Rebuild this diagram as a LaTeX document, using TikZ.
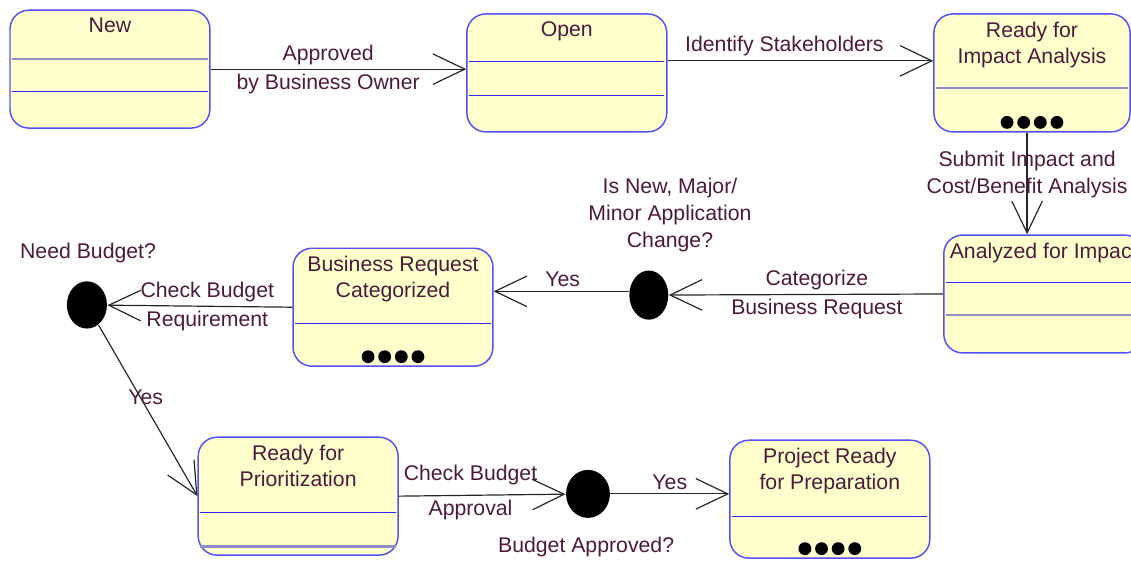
\documentclass[tikz,border=0pt]{standalone}
\usepackage{fontspec}
\setmainfont{Liberation Sans}
\usepackage{xcolor}
\usepackage{tikz}
\usetikzlibrary{shapes.geometric}
\usetikzlibrary{arrows.meta}
\definecolor{boxline}{RGB}{80,80,255}
\definecolor{boxfill}{RGB}{255,255,204}
\definecolor{sepgrey}{RGB}{140,140,200}
\definecolor{sepblue}{RGB}{40,40,255}
\definecolor{labelcol}{RGB}{80,25,60}
\tikzset{
    statebox/.style = {rectangle, rounded corners=0.5cm, draw=boxline, fill=boxfill, line width=1.1pt, minimum width=5.29cm, minimum height=3.12cm},
    titled/.style = {label={[anchor=north,align=center,inner sep=6pt]north:#1}},
    choice/.style = {ellipse, fill=black, inner sep=0pt, minimum width=1.06cm, minimum height=1.25cm},
}

\begin{document}
\begin{tikzpicture}[
	thick,
	font=\fontsize{16}{20}\selectfont,
	text=labelcol,
	inner sep=3pt
]
\tikzset{
    trans/.style = {-{Straight Barb[length=24pt,width=23pt]}, draw=black!85, line width=0.9pt}
}
\useasboundingbox (0,0) rectangle (29.93,14.90);
\clip (0,0) rectangle (29.93,14.90);
\node[statebox, titled={New}] at (2.91,13.07) (new) {};
\node[statebox, titled={Open}] at (15.00,12.97) (open) {};
\node[statebox, titled={Ready for\\Impact Analysis}, minimum width=5.19cm] at (27.31,12.97) (rfi) {};
\node[statebox, titled={Analyzed for Impact}] at (27.62,7.12) (afi) {};
\node[statebox, titled={Business Request\\Categorized}] at (10.40,6.77) (brc) {};
\node[statebox, titled={Ready for\\Prioritization}] at (7.89,1.77) (rfp) {};
\node[statebox, titled={Project Ready\\for Preparation}] at (21.96,1.69) (pr) {};
%
\node[choice] at (2.30,6.83) (nb) {};
\node[choice, minimum width=1.03cm, minimum height=1.30cm] at (17.17,7.09) (ch) {};
\node[choice, minimum width=1.16cm, minimum height=1.27cm] at (15.56,1.83) (ba) {};
%
\node at (2.33,8.20) (needbudget) {Need Budget?};
\node[align=center] at (17.73,9.21) (isnew) {Is New, Major/\\Minor Application\\Change?};
\node at (15.51,0.42) (budgetok) {Budget Approved?};
%
\foreach \b/\off/\col/\lw in {new/1.30/sepgrey/1.6pt, new/2.17/sepblue/1pt,
    open/1.27/sepblue/1pt, open/2.17/sepblue/1pt, rfi/1.98/sepgrey/1.6pt,
    afi/1.27/sepblue/1pt, afi/2.14/sepgrey/1.6pt, brc/2.01/sepblue/1pt,
    rfp/2.01/sepblue/1pt, rfp/2.91/sepgrey/1.6pt, pr/2.04/sepblue/1pt}
  \draw[draw=\col, line width=\lw] ([shift={(0.08,-\off)}]\b.north west) -- ([shift={(-0.08,-\off)}]\b.north east);
\foreach \b in {rfi,brc,pr}
  \foreach \k in {-1.5,-0.5,0.5,1.5}
    \fill[black] ([shift={(\k*0.44,0.27)}]\b.south) circle (0.17);
%
\draw[trans] (new.east) -- node[pos=0.46,above] {Approved} node[pos=0.46,below] {by Business Owner} (new.east -| open.west);
\draw[trans] ([yshift=0.32cm]open.east) -- node[pos=0.44,above] {Identify Stakeholders} ([yshift=0.32cm]open.east -| rfi.west);
\draw[trans] ([xshift=-0.13cm]rfi.south) -- node[pos=0.41,align=center] {Submit Impact and\\Cost/Benefit Analysis} ([xshift=-0.13cm]rfi.south |- afi.north);
%
\draw[trans] (afi.west) -- node[pos=0.46,above] {Categorize} node[pos=0.46,below] {Business Request} (ch);
\draw[trans] ([yshift=0.1cm]ch.west) -- node[pos=0.49,above] {Yes} ([yshift=0.1cm]ch.west -| brc.east);
\draw[trans] (brc.west) -- node[pos=0.46,above] {Check Budget} node[pos=0.46,below] {Requirement} (nb);
%
\draw[trans] (nb) -- node[pos=0.42,xshift=0.15cm] {Yes} (rfp.west);
\draw[trans] (rfp.east) -- node[pos=0.43,above=4pt] {Check Budget} node[pos=0.43,below=0pt] {Approval} (ba);
\draw[trans] (ba) -- node[pos=0.5,above] {Yes} (ba -| pr.west);
\end{tikzpicture}
\end{document}
